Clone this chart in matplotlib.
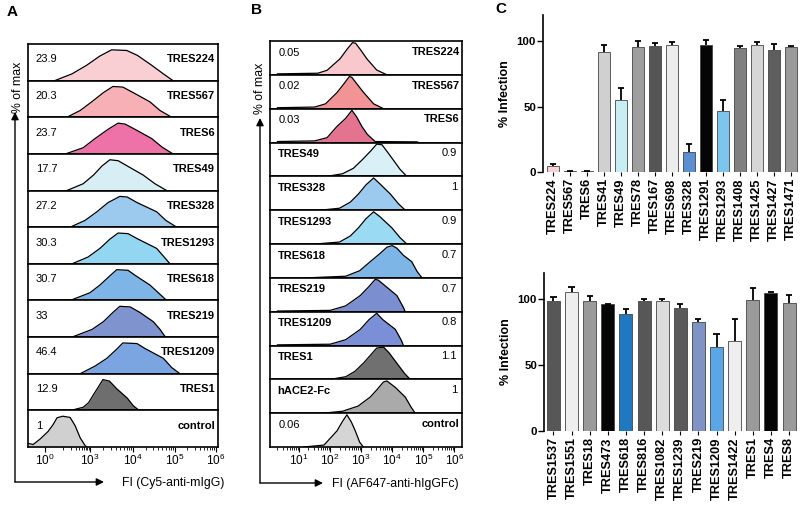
import numpy as np
import matplotlib
matplotlib.use('Agg')
import matplotlib.pyplot as plt
from matplotlib.patches import FancyArrowPatch

plt.rcParams['font.family'] = ['Liberation Sans', 'DejaVu Sans']
plt.rcParams['mathtext.fontset'] = 'custom'
plt.rcParams['mathtext.rm'] = 'Liberation Sans'
plt.rcParams['mathtext.it'] = 'Liberation Sans:italic'
plt.rcParams['mathtext.bf'] = 'Liberation Sans:bold'

# ---- panel A: flow histograms (x in log10 FI, y in % of max)
A_names = ['TRES224', 'TRES567', 'TRES6', 'TRES49', 'TRES328', 'TRES1293',
           'TRES618', 'TRES219', 'TRES1209', 'TRES1', 'control']
A_values = ['23.9', '20.3', '23.7', '17.7', '27.2', '30.3', '30.7', '33', '46.4', '12.9', '1']
A_hist_x = [
    [1.1, 2.34, 2.88, 3.23, 3.5, 3.85, 4.1, 4.44, 4.72, 4.95],
    [2.15, 2.64, 3.04, 3.31, 3.53, 3.76, 4.0, 4.40, 4.64, 4.92],
    [2.1, 2.75, 3.12, 3.42, 3.65, 3.81, 4.04, 4.44, 4.69, 4.95],
    [2.15, 2.75, 3.08, 3.28, 3.46, 3.65, 3.86, 4.24, 4.52, 4.80],
    [2.27, 2.82, 3.16, 3.42, 3.69, 3.86, 4.09, 4.56, 4.78, 5.04],
    [2.34, 2.93, 3.23, 3.46, 3.65, 3.88, 4.09, 4.56, 4.72, 4.88],
    [2.27, 3.0, 3.23, 3.46, 3.62, 3.88, 4.04, 4.40, 4.6, 4.80],
    [2.34, 3.05, 3.31, 3.53, 3.69, 3.93, 4.16, 4.48, 4.64, 4.77],
    [2.64, 3.12, 3.39, 3.62, 3.76, 4.09, 4.28, 4.72, 4.92, 5.12],
    [2.3, 2.75, 2.95, 3.1, 3.3, 3.45, 3.62, 3.86, 4.0, 4.14],
    [-2.0, -1.4, -0.6, 0.34, 0.9, 1.36, 2.0, 2.27, 2.45, 2.64, 2.82, 2.88],
]
A_hist_y = [
    [0, 22, 50, 80, 100, 98, 82, 50, 22, 0],
    [0, 22, 50, 80, 100, 98, 80, 50, 22, 0],
    [0, 20, 50, 80, 100, 97, 80, 50, 22, 0],
    [0, 22, 50, 80, 100, 97, 80, 50, 22, 0],
    [0, 22, 50, 80, 100, 98, 80, 50, 22, 0],
    [0, 22, 50, 80, 100, 98, 82, 50, 25, 0],
    [0, 25, 50, 80, 100, 98, 82, 50, 25, 0],
    [0, 25, 50, 80, 100, 98, 80, 50, 25, 0],
    [0, 25, 50, 80, 100, 98, 82, 50, 20, 0],
    [0, 10, 25, 55, 100, 95, 70, 40, 15, 0],
    [12, 8, 25, 50, 72, 95, 100, 96, 70, 30, 5, 0],
]
A_colors = ['#f9cfd3', '#f6b0b6', '#ee72a8', '#d7eef5', '#9ccaee', '#93d6f2',
            '#7cb5e6', '#7f93cf', '#7aa5e0', '#6e6e6e', '#d0d0d0']

# ---- panel B
B_names = ['TRES224', 'TRES567', 'TRES6', 'TRES49', 'TRES328', 'TRES1293', 'TRES618',
           'TRES219', 'TRES1209', 'TRES1', 'hACE2-Fc', 'control']
B_values = ['0.05', '0.02', '0.03', '0.9', '1', '0.9', '0.7', '0.7', '0.8', '1.1', '1', '0.06']
B_name_right = [True, True, True, False, False, False, False, False, False, False, False, True]
B_hist_x = [
    [0.3, 1.6, 1.9, 2.32, 2.55, 2.72, 2.82, 3.0, 3.18, 3.5, 3.83],
    [0.3, 1.5, 1.85, 2.22, 2.45, 2.62, 2.7, 2.9, 3.08, 3.4, 3.72],
    [0.3, 1.5, 1.9, 2.22, 2.5, 2.7, 2.85, 3.02, 3.2, 3.45, 4.8, 4.85],
    [1.9, 2.4, 2.75, 3.02, 3.3, 3.5, 3.67, 3.85, 4.04, 4.25, 4.47],
    [1.68, 2.3, 2.65, 2.91, 3.15, 3.4, 3.6, 3.94, 4.2, 4.42],
    [1.52, 2.3, 2.65, 2.91, 3.15, 3.4, 3.6, 3.99, 4.25, 4.47],
    [1.25, 2.5, 2.95, 3.29, 3.6, 3.83, 4.0, 4.15, 4.36, 4.63, 4.8, 4.96],
    [0.3, 2.0, 2.5, 2.97, 3.25, 3.45, 3.55, 3.8, 4.15, 4.35, 4.42],
    [0.3, 2.0, 2.5, 2.97, 3.25, 3.5, 3.7, 4.1, 4.3, 4.36],
    [2.0, 2.5, 2.8, 3.07, 3.3, 3.5, 3.72, 3.9, 4.15, 4.4, 4.58],
    [1.78, 2.4, 2.9, 3.29, 3.5, 3.72, 3.83, 4.1, 4.42, 4.6, 4.74],
    [1.14, 1.8, 2.22, 2.4, 2.54, 2.68, 2.81, 2.95, 3.07],
]
B_hist_y = [
    [3, 5, 14, 50, 80, 100, 98, 75, 50, 15, 0],
    [3, 5, 15, 50, 78, 100, 97, 72, 50, 15, 0],
    [3, 5, 15, 50, 75, 100, 80, 50, 25, 3, 2, 0],
    [0, 8, 25, 50, 78, 100, 98, 75, 50, 22, 0],
    [0, 6, 25, 50, 78, 100, 82, 50, 20, 0],
    [0, 6, 25, 50, 78, 100, 85, 50, 20, 0],
    [0, 5, 22, 50, 75, 95, 100, 92, 70, 50, 20, 0],
    [2, 4, 18, 50, 78, 100, 98, 78, 50, 15, 0],
    [2, 4, 18, 50, 80, 100, 80, 50, 15, 0],
    [0, 8, 25, 50, 75, 97, 100, 82, 50, 18, 0],
    [0, 6, 22, 50, 72, 97, 100, 80, 50, 20, 0],
    [0, 6, 50, 80, 100, 78, 50, 15, 0],
]
B_colors = ['#f8c8cc', '#f29396', '#e47390', '#d9f0f6', '#9ccaee', '#9adaf2', '#7cb5e6',
            '#7b8fd0', '#7b8fd6', '#707070', '#aaaaaa', '#d5d5d5']

# ---- panel C
C1_names = ['TRES224', 'TRES567', 'TRES6', 'TRES41', 'TRES49', 'TRES78', 'TRES167', 'TRES698',
            'TRES328', 'TRES1291', 'TRES1293', 'TRES1408', 'TRES1425', 'TRES1427', 'TRES1471']
C1_vals = np.array([4.3, 0.8, 0.8, 91.8, 55.4, 95.7, 96, 97.4, 15, 97.4, 46.4, 95, 97.4, 93.6, 95.4])
C1_err = np.array([1.7, 0.3, 0.3, 5.2, 8.6, 4.8, 2.7, 1.6, 6.4, 3.6, 9, 1, 1.6, 4.4, 0.8])
C1_colors = ['#f6d2d6', '#f2b8bd', '#e990b0', '#d0d0d0', '#c8edf2', '#9e9e9e', '#555555', '#ececec',
             '#5b8fd0', '#050505', '#7cc6ee', '#808080', '#d6d6d6', '#5e5e5e', '#9a9a9a']

C2_names = ['TRES1537', 'TRES1551', 'TRES18', 'TRES473', 'TRES618', 'TRES816', 'TRES1082',
            'TRES1239', 'TRES219', 'TRES1209', 'TRES1422', 'TRES1', 'TRES4', 'TRES8']
C2_vals = np.array([98.7, 105.6, 98.7, 96.2, 88.5, 98.7, 98.7, 93.6, 83, 63.9, 68.2, 99.5, 105, 97.5])
C2_err = np.array([3.1, 3.8, 3.8, 0.5, 4.5, 1.3, 1.8, 2.6, 2.2, 9.4, 17, 9.4, 0.6, 5.8])
C2_colors = ['#575757', '#eeeeee', '#9a9a9a', '#050505', '#1f78c0', '#575757', '#dcdcdc',
             '#5a5a5a', '#7f93c4', '#5aa6e6', '#eeeeee', '#9a9a9a', '#050505', '#9a9a9a']

W, H = 800, 507


def fx(px):
    return px / W


def fy(py):
    return 1 - py / H


fig = plt.figure(figsize=(W / 100, H / 100), dpi=100)

# logicle-like display for panel A
A_dec = [-2.0, 0, 2, 3, 4, 5, 6, 6.05]
A_pos = [0.0, 0.089, 0.183, 0.326, 0.554, 0.774, 0.99, 1.0]


def a_fwd(v):
    return np.interp(v, A_dec, A_pos)


def a_inv(v):
    return np.interp(v, A_pos, A_dec)


def draw_row(ax, xs, ys, color, ymax):
    ax.fill_between(xs, ys, color=color, lw=0)
    ax.plot(xs, ys, color='black', lw=0.9)
    ax.set_ylim(0, ymax)
    ax.set_yticks([])
    for s in ax.spines.values():
        s.set_linewidth(1.2)


def bottom_ticks(ax, majors, labels, minors):
    ax.set_xticks(majors)
    ax.set_xticklabels(labels)
    ax.set_xticks(minors, minor=True)
    ax.tick_params(axis='x', which='major', length=3.5, width=0.8, labelsize=8.5, pad=0.5)
    ax.tick_params(axis='x', which='minor', length=2.2, width=0.6)


# Panel A
gsA = fig.add_gridspec(len(A_names), 1, left=fx(28), right=fx(218), top=fy(44), bottom=fy(447), hspace=0)
for i, name in enumerate(A_names):
    ax = fig.add_subplot(gsA[i])
    ax.set_xscale('function', functions=(a_fwd, a_inv))
    draw_row(ax, A_hist_x[i], A_hist_y[i], A_colors[i], 119)
    ax.set_xlim(-2.0, 6.05)
    ax.text(0.04, 0.58, A_values[i], transform=ax.transAxes, ha='left', va='center', fontsize=8)
    ax.text(0.985, 0.58, name, transform=ax.transAxes, ha='right', va='center',
            fontsize=8, fontweight='bold')
    if i == len(A_names) - 1:
        bottom_ticks(ax, [0, 3, 4, 5, 6], ['$10^{%d}$' % d for d in [0, 3, 4, 5, 6]],
                     [d + np.log10(k) for d in range(2, 6) for k in range(2, 10)] + [2])
    else:
        ax.set_xticks([])
        ax.set_xticks([], minor=True)

# Panel B
gsB = fig.add_gridspec(len(B_names), 1, left=fx(270), right=fx(461.7), top=fy(41), bottom=fy(447), hspace=0)
for i, name in enumerate(B_names):
    ax = fig.add_subplot(gsB[i])
    draw_row(ax, B_hist_x[i], B_hist_y[i], B_colors[i], 105)
    ax.set_xlim(0.06, 6.24)
    if B_name_right[i]:
        ax.text(0.045, 0.66, B_values[i], transform=ax.transAxes, ha='left', va='center', fontsize=8)
        ax.text(0.99, 0.68, name, transform=ax.transAxes, ha='right', va='center',
                fontsize=8, fontweight='bold')
    else:
        ax.text(0.04, 0.66, name, transform=ax.transAxes, ha='left', va='center',
                fontsize=8, fontweight='bold')
        ax.text(0.975, 0.68, B_values[i], transform=ax.transAxes, ha='right', va='center', fontsize=8)
    if i == len(B_names) - 1:
        bottom_ticks(ax, [1, 2, 3, 4, 5, 6], ['$10^{%d}$' % d for d in range(1, 7)],
                     [d + np.log10(k) for d in range(0, 6) for k in range(2, 10)])
    else:
        ax.set_xticks([])
        ax.set_xticks([], minor=True)


def arrow(p0, p1):
    fig.add_artist(FancyArrowPatch((fx(p0[0]), fy(p0[1])), (fx(p1[0]), fy(p1[1])),
                                   transform=fig.transFigure, arrowstyle='-|>', mutation_scale=11,
                                   lw=1.0, color='black', shrinkA=0, shrinkB=0))


arrow((15, 482), (15, 112))
arrow((15, 482), (104, 482))
arrow((260, 483), (260, 118))
arrow((260, 483), (323, 483))
fig.text(fx(18), fy(87), '% of max', rotation=90, ha='center', va='center', fontsize=8.8)
fig.text(fx(260), fy(88), '% of max', rotation=90, ha='center', va='center', fontsize=8.8)
fig.text(fx(122), fy(483), 'FI (Cy5-anti-mIgG)', ha='left', va='center', fontsize=8.8)
fig.text(fx(332), fy(484), 'FI (AF647-anti-hIgGFc)', ha='left', va='center', fontsize=8.8)

fig.text(fx(7), fy(12), 'A', ha='left', va='center', fontsize=11, fontweight='bold')
fig.text(fx(251), fy(10), 'B', ha='left', va='center', fontsize=11, fontweight='bold')
fig.text(fx(495), fy(9), 'C', ha='left', va='center', fontsize=11, fontweight='bold')


# Panel C bar charts
def bar_panel(rect, names, vals, errs, colors, xlim):
    ax = fig.add_axes(rect)
    x = np.arange(len(names))
    ax.bar(x, vals, width=0.72, color=colors, edgecolor='#444444', lw=0.6)
    ax.vlines(x, vals, vals + errs, color='black', lw=1.3)
    ax.hlines(vals + errs, x - 0.17, x + 0.17, color='black', lw=1.3)
    ax.set_ylim(0, 120)
    ax.set_xlim(*xlim)
    ax.set_yticks([0, 50, 100])
    ax.set_xticks(x)
    ax.set_xticklabels(names, rotation=90, fontsize=9.2, fontweight='bold')
    for lab in ax.get_yticklabels():
        lab.set_fontweight('bold')
    ax.tick_params(axis='y', labelsize=8.2, length=4, width=1.0, pad=1)
    ax.tick_params(axis='x', length=3, width=0.8, pad=1.5)
    for s in ['top', 'right', 'bottom']:
        ax.spines[s].set_visible(False)
    ax.spines['left'].set_linewidth(1.2)
    ax.set_ylabel('% Infection', fontsize=9, fontweight='bold', labelpad=4)
    return ax


bar_panel([fx(543), fy(172), fx(799) - fx(543), fy(15) - fy(172)],
          C1_names, C1_vals, C1_err, C1_colors, (-0.6, 14.45))
bar_panel([fx(544), fy(431), fx(799) - fx(544), fy(273) - fy(431)],
          C2_names, C2_vals, C2_err, C2_colors, (-0.52, 13.55))

fig.savefig('out.png', dpi=100)
